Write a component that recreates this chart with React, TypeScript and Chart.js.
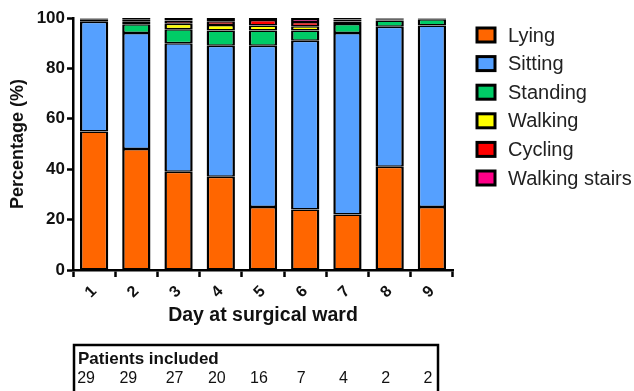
import React, { useEffect, useRef } from 'react';
import { Chart, registerables } from 'chart.js';

Chart.register(...registerables);

const days = ['1', '2', '3', '4', '5', '6', '7', '8', '9'];
const lying = [55, 48, 39, 37, 25, 24, 22, 41, 25];
const sitting = [43.5, 46, 51, 52, 64, 67, 72, 55.5, 72];
const standing = [0.8, 3.5, 5.5, 6, 6, 4, 3.6, 2.5, 2.5];
const walking = [0.4, 1, 2.2, 2.2, 2, 1.7, 1, 0.5, 0.3];
const cycling = [0.2, 0.8, 1.3, 1.5, 2.2, 1.7, 0.8, 0.3, 0.1];
const stairs = [0.1, 0.7, 1, 1.3, 0.8, 1.6, 0.6, 0.2, 0.1];
const patients = [29, 29, 27, 20, 16, 7, 4, 2, 2];

const seriesNames = ['Lying', 'Sitting', 'Standing', 'Walking', 'Cycling', 'Walking stairs'];
const seriesColors = ['#FF6600', '#55A0FF', '#00CC66', '#FFFF00', '#FF0000', '#FF0088'];
const seriesValues = [lying, sitting, standing, walking, cycling, stairs];

const FONT = '"Liberation Sans", Arial, Helvetica, sans-serif';

const overlay = {
  id: 'overlay',
  afterDraw(chart: any) {
    const ctx = chart.ctx as CanvasRenderingContext2D;
    ctx.save();
    // Legend
    seriesNames.forEach((name, i) => {
      const cy = 35 + i * 28.6;
      ctx.fillStyle = seriesColors[i];
      ctx.fillRect(477, cy - 7, 18, 14);
      ctx.lineWidth = 3;
      ctx.strokeStyle = '#000';
      ctx.strokeRect(477, cy - 7, 18, 14);
      ctx.fillStyle = '#222';
      ctx.font = `20px ${FONT}`;
      ctx.textAlign = 'left';
      ctx.textBaseline = 'middle';
      ctx.fillText(name, 508, cy + 1);
    });
    // Table
    ctx.lineWidth = 2.5;
    ctx.strokeStyle = '#000';
    ctx.strokeRect(74, 345, 364, 60);
    ctx.fillStyle = '#111';
    ctx.font = `bold 17px ${FONT}`;
    ctx.textAlign = 'left';
    ctx.textBaseline = 'middle';
    ctx.fillText('Patients included', 78, 359);
    ctx.font = `16px ${FONT}`;
    ctx.textAlign = 'center';
    const xs = chart.scales.x;
    patients.forEach((p, i) => {
      const off = i < 2 ? -8 : -4;
      ctx.fillText(String(p), xs.getPixelForValue(i) + off, 379);
    });
    ctx.restore();
  },
};

export default function App() {
  const ref = useRef<HTMLCanvasElement>(null);
  useEffect(() => {
    if (!ref.current) return;
    const last = seriesNames.length - 1;
    const chart = new Chart(ref.current, {
      type: 'bar',
      data: {
        labels: days,
        datasets: seriesNames.map((name, i) => ({
          label: name,
          data: seriesValues[i],
          backgroundColor: seriesColors[i],
          borderColor: '#000',
          borderWidth: { left: 2.5, right: 2.5, top: i === last ? 2.5 : 1.5, bottom: 1.5 },
          borderSkipped: false,
          barPercentage: 0.67,
          categoryPercentage: 1,
        })),
      },
      options: {
        animation: false,
        responsive: false,
        devicePixelRatio: 1,
        layout: { padding: { top: 18, right: 181, bottom: 64, left: 0 } },
        plugins: { legend: { display: false }, tooltip: { enabled: false } },
        scales: {
          x: {
            stacked: true,
            offset: true,
            grid: { display: true, drawOnChartArea: false, drawTicks: true, tickLength: 7, tickWidth: 2.5, tickColor: '#000' },
            border: { color: '#000', width: 2.5 },
            ticks: { minRotation: 45, maxRotation: 45, color: '#111', font: { family: FONT, size: 16, weight: 'bold' }, padding: 5 },
            title: { display: true, text: 'Day at surgical ward', color: '#111', font: { family: FONT, size: 19.5, weight: 'bold' }, padding: { top: 0, bottom: 0 } },
            afterFit: (s: any) => { s.height = 57; },
          },
          y: {
            stacked: true,
            min: 0,
            max: 100,
            grid: { display: true, drawOnChartArea: false, drawTicks: true, tickLength: 6, tickWidth: 2.5, tickColor: '#000' },
            border: { color: '#000', width: 2.5 },
            ticks: { stepSize: 20, color: '#111', font: { family: FONT, size: 17, weight: 'bold' }, padding: 2 },
            title: { display: true, text: 'Percentage (%)', color: '#111', font: { family: FONT, size: 18, weight: 'bold' }, padding: { top: 7, bottom: 0 } },
            afterFit: (s: any) => { s.width = 73; },
          },
        },
      },
      plugins: [overlay],
    });
    return () => chart.destroy();
  }, []);
  return (
    <div style={{ position: 'absolute', left: 0, top: 0, width: 634, height: 391, background: '#fff' }}>
      <canvas ref={ref} width={634} height={391} />
    </div>
  );
}
